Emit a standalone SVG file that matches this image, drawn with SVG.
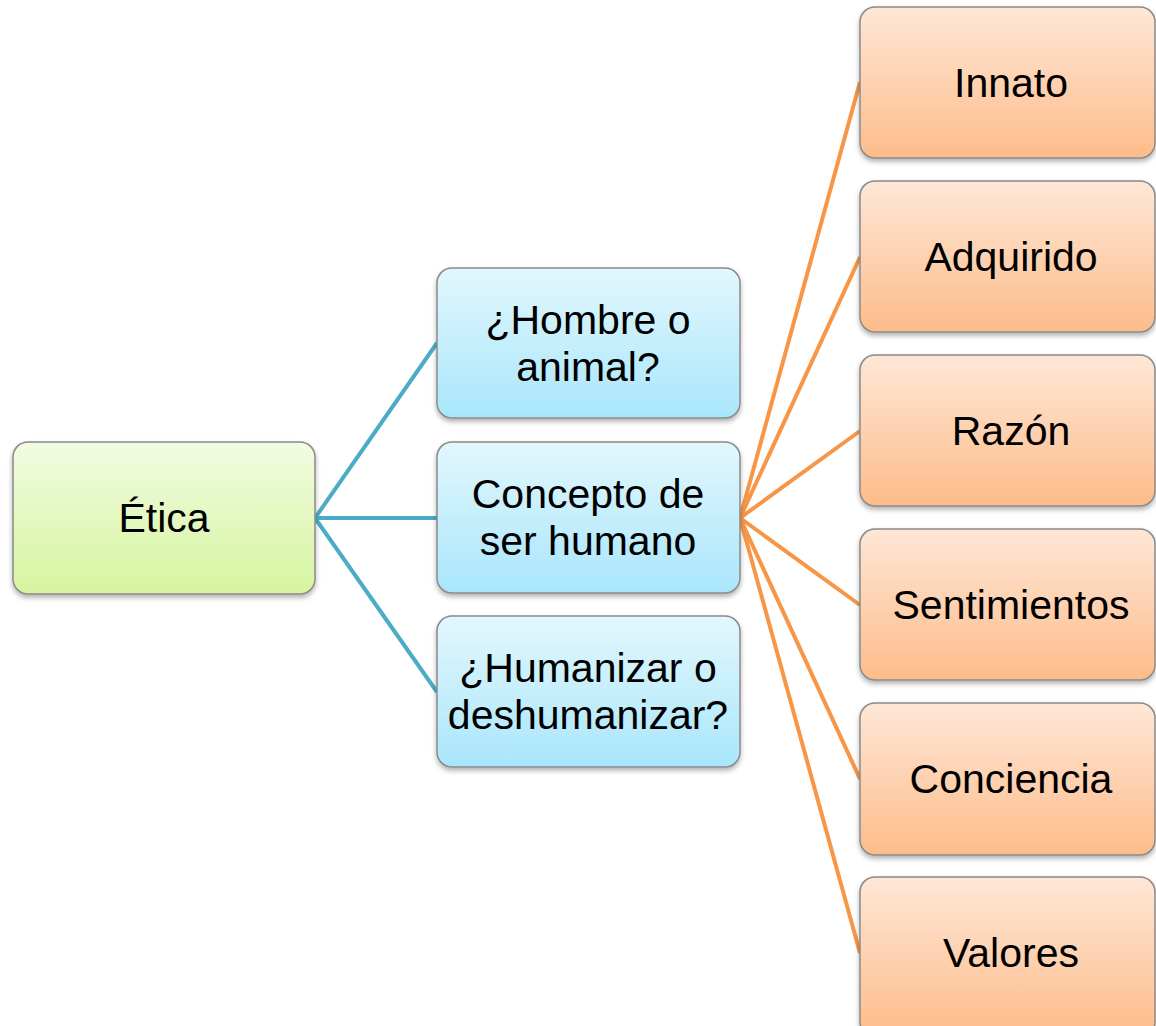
<svg xmlns="http://www.w3.org/2000/svg" width="1156" height="1026" viewBox="0 0 1156 1026">
<defs>
<linearGradient id="gGreen" x1="0" y1="0" x2="0" y2="1"><stop offset="0" stop-color="#F1FBE2"/><stop offset="1" stop-color="#D6F59E"/></linearGradient>
<linearGradient id="gBlue" x1="0" y1="0" x2="0" y2="1"><stop offset="0" stop-color="#E2F7FD"/><stop offset="1" stop-color="#A9E6FB"/></linearGradient>
<linearGradient id="gOrange" x1="0" y1="0" x2="0" y2="1"><stop offset="0" stop-color="#FEE7D7"/><stop offset="1" stop-color="#FDBC8A"/></linearGradient>
<filter id="sh" x="-10%" y="-10%" width="120%" height="130%"><feDropShadow dx="0" dy="3" stdDeviation="2.5" flood-color="#000" flood-opacity="0.3"/></filter>
<style>
.box{stroke:#8A8A8A;stroke-width:1.5;filter:url(#sh)}
.t{font-family:"Liberation Sans",Arial,sans-serif;font-size:41px;fill:#000;text-anchor:middle}
.cb{stroke:#4BACC6;stroke-width:4;fill:none}
.co{stroke:#F79646;stroke-width:4;fill:none}
</style>
</defs>
<rect width="1156" height="1026" fill="#fff"/>
<g id="connectors">
<path class="cb" d="M315,518 L437,343 M315,518 L437,518 M315,518 L437,692"/>
<path class="co" d="M740,518 L860,82 M740,518 L860,257 M740,518 L860,431 M740,518 L860,605 M740,518 L860,779 M740,518 L860,953"/>
</g>
<g id="etica"><rect class="box" x="13" y="442" width="302" height="152" rx="15" fill="url(#gGreen)"/><text class="t" x="164" y="532">Ética</text></g>
<g id="hombre"><rect class="box" x="437" y="268" width="303" height="150" rx="15" fill="url(#gBlue)"/><text class="t" x="588" y="334">¿Hombre o</text><text class="t" x="588" y="381">animal?</text></g>
<g id="concepto"><rect class="box" x="437" y="442" width="303" height="151" rx="15" fill="url(#gBlue)"/><text class="t" x="588" y="508">Concepto de</text><text class="t" x="588" y="555">ser humano</text></g>
<g id="humanizar"><rect class="box" x="437" y="616" width="303" height="151" rx="15" fill="url(#gBlue)"/><text class="t" x="588" y="682">¿Humanizar o</text><text class="t" x="588" y="729">deshumanizar?</text></g>
<g id="innato"><rect class="box" x="860" y="7" width="295" height="151" rx="15" fill="url(#gOrange)"/><text class="t" x="1011" y="97">Innato</text></g>
<g id="adquirido"><rect class="box" x="860" y="181" width="295" height="151" rx="15" fill="url(#gOrange)"/><text class="t" x="1011" y="271">Adquirido</text></g>
<g id="razon"><rect class="box" x="860" y="355" width="295" height="151" rx="15" fill="url(#gOrange)"/><text class="t" x="1011" y="445">Razón</text></g>
<g id="sentimientos"><rect class="box" x="860" y="529" width="295" height="151" rx="15" fill="url(#gOrange)"/><text class="t" x="1011" y="619">Sentimientos</text></g>
<g id="conciencia"><rect class="box" x="860" y="703" width="295" height="152" rx="15" fill="url(#gOrange)"/><text class="t" x="1011" y="793">Conciencia</text></g>
<g id="valores"><rect class="box" x="860" y="877" width="295" height="160" rx="15" fill="url(#gOrange)"/><text class="t" x="1011" y="967">Valores</text></g>
</svg>
